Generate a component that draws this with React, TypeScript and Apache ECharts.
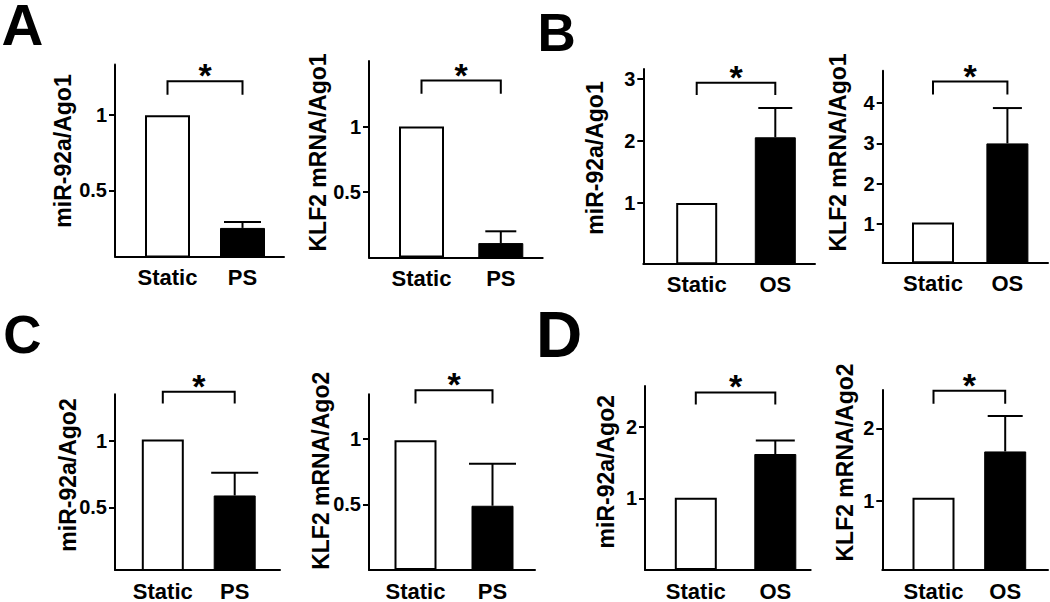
import React, { useEffect, useRef } from 'react';
import * as echarts from 'echarts';

// ---------- data ----------
const groupsPS = ['Static', 'PS'];
const groupsOS = ['Static', 'OS'];
const panelLetters = ['A', 'B', 'C', 'D'];
const yTitles = [
  'miR-92a/Ago1', 'KLF2 mRNA/Ago1',
  'miR-92a/Ago1', 'KLF2 mRNA/Ago1',
  'miR-92a/Ago2', 'KLF2 mRNA/Ago2',
  'miR-92a/Ago2', 'KLF2 mRNA/Ago2',
];
const categoryNames = [groupsPS, groupsPS, groupsOS, groupsOS, groupsPS, groupsPS, groupsOS, groupsOS];
const meanValues = [
  [1.0, 0.25], [1.0, 0.11],
  [1.0, 2.06], [1.03, 3.0],
  [1.01, 0.59], [0.99, 0.49],
  [1.01, 1.62], [1.04, 1.68],
];
const errorValues = [0.04, 0.09, 0.47, 0.88, 0.17, 0.32, 0.19, 0.49];
const yTicks = [
  [0.5, 1], [0.5, 1],
  [1, 2, 3], [1, 2, 3, 4],
  [0.5, 1], [0.5, 1],
  [1, 2], [1, 2],
];
const yMin = [0.06, 0, 0.03, 0.04, 0.03, 0, 0, 0.04];
const yMax = [1.337, 1.5, 3.16, 4.81, 1.35, 1.34, 2.57, 2.53];
const bracketTop = [1.225, 1.351, 2.94, 4.54, 1.37, 1.37, 2.48, 2.52];
const bracketLeg = [1.135, 1.25, 2.74, 4.22, 1.28, 1.27, 2.31, 2.34];
const significance = ['*', '*', '*', '*', '*', '*', '*', '*'];

// ---------- layout (pixels) ----------
const panelLayout = [
  { left: 115, top: 64.5, right: 284, bottom: 256.5, c0: 167.5, c1: 242.5, bw: 45, cap: 37, tx: 63, ty: 151 },
  { left: 369, top: 61, right: 542.7, bottom: 257.5, c0: 421.5, c1: 500.8, bw: 45, cap: 31, tx: 318, ty: 152.5 },
  { left: 643.3, top: 69, right: 815, bottom: 263.3, c0: 696.7, c1: 775.3, bw: 41, cap: 34, tx: 594.7, ty: 158 },
  { left: 882.7, top: 70.7, right: 1048, bottom: 262.3, c0: 933, c1: 1007.4, bw: 42, cap: 29, tx: 838, ty: 152.5 },
  { left: 115, top: 394.3, right: 280, bottom: 575, c0: 162.8, c1: 234.7, bw: 42, cap: 47, tx: 68, ty: 475 },
  { left: 369, top: 394.3, right: 535, bottom: 574.7, c0: 415.5, c1: 492.5, bw: 42, cap: 47, tx: 321.3, ty: 470.8 },
  { left: 645, top: 386, right: 810.7, bottom: 574.3, c0: 695.8, c1: 775.3, bw: 42, cap: 39, tx: 606.3, ty: 471.7 },
  { left: 882.3, top: 390, right: 1048, bottom: 574.3, c0: 933.5, c1: 1005.2, bw: 42, cap: 35, tx: 844.7, ty: 462.5 },
];
const letterLayout = [
  { x: 22.5, y: 24, size: 58 },
  { x: 556.7, y: 32, size: 53 },
  { x: 22.5, y: 334, size: 53 },
  { x: 559, y: 335, size: 64 },
];

const FONT = '"Liberation Sans", Arial, Helvetica, sans-serif';

function buildOption() {
  const grid: any[] = [];
  const xAxis: any[] = [];
  const yAxis: any[] = [];
  const series: any[] = [];
  const graphic: any[] = [];

  panelLayout.forEach((L, i) => {
    const spacing = L.c1 - L.c0;
    const xMin = -(L.c0 - L.left) / spacing;
    const xMax = 1 + (L.right - L.c1) / spacing;
    const cats = categoryNames[i];
    grid.push({ left: L.left, top: L.top, width: L.right - L.left, height: L.bottom - L.top, containLabel: false });
    xAxis.push({
      type: 'value', gridIndex: i, min: xMin, max: xMax,
      axisLine: { show: true, onZero: false, lineStyle: { color: '#000', width: 2 } },
      axisTick: { show: false },
      splitLine: { show: false },
      axisLabel: {
        customValues: [0, 1],
        formatter: (v: number) => cats[Math.round(v)],
        color: '#000', fontSize: 22, fontWeight: 'bold', fontFamily: FONT, margin: 10,
      },
    });
    yAxis.push({
      type: 'value', gridIndex: i, min: yMin[i], max: yMax[i],
      axisLine: { show: true, onZero: false, lineStyle: { color: '#000', width: 2 } },
      axisTick: { show: true, customValues: yTicks[i], length: 6, lineStyle: { color: '#000', width: 2 } },
      splitLine: { show: false },
      axisLabel: {
        customValues: yTicks[i],
        formatter: (v: number) => String(v),
        color: '#000', fontSize: 20, fontWeight: 'bold', fontFamily: FONT, margin: 8,
      },
    });
    series.push({
      type: 'bar', xAxisIndex: i, yAxisIndex: i, barWidth: L.bw,
      data: meanValues[i].map((v, k) => ({
        value: [k, v],
        itemStyle: k === 0
          ? { color: '#fff', borderColor: '#000', borderWidth: 2 }
          : { color: '#000', borderColor: '#000', borderWidth: 1 },
      })),
    });
    const m = meanValues[i][1];
    series.push({
      type: 'custom', xAxisIndex: i, yAxisIndex: i, clip: false,
      encode: { x: 0, y: [1, 2] },
      data: [[1, m, m + errorValues[i]]],
      renderItem: (params: any, api: any) => {
        const p0 = api.coord([api.value(0), api.value(1)]);
        const p1 = api.coord([api.value(0), api.value(2)]);
        const h = L.cap / 2;
        return {
          type: 'group',
          children: [
            { type: 'line', shape: { x1: p0[0], y1: p0[1], x2: p1[0], y2: p1[1] }, style: { stroke: '#000', lineWidth: 2 } },
            { type: 'line', shape: { x1: p1[0] - h, y1: p1[1], x2: p1[0] + h, y2: p1[1] }, style: { stroke: '#000', lineWidth: 2 } },
          ],
        };
      },
      z: 5,
    });
    series.push({
      type: 'custom', xAxisIndex: i, yAxisIndex: i, clip: false,
      encode: { x: [0, 1], y: [2, 3] },
      data: [[0, 1, bracketTop[i], bracketLeg[i]]],
      renderItem: (params: any, api: any) => {
        const a = api.coord([api.value(0), api.value(3)]);
        const b = api.coord([api.value(0), api.value(2)]);
        const c = api.coord([api.value(1), api.value(2)]);
        const d = api.coord([api.value(1), api.value(3)]);
        return {
          type: 'group',
          children: [
            { type: 'polyline', shape: { points: [a, b, c, d] }, style: { stroke: '#000', lineWidth: 2, fill: null } },
            {
              type: 'text', x: (b[0] + c[0]) / 2, y: b[1] - 6,
              style: {
                text: significance[i], fill: '#000', fontSize: 34, fontWeight: 'bold', fontFamily: FONT,
                align: 'center', verticalAlign: 'middle', textAlign: 'center', textVerticalAlign: 'middle',
              },
            },
          ],
        };
      },
      z: 5,
    });
    graphic.push({
      type: 'text', x: L.tx, y: L.ty, rotation: Math.PI / 2,
      style: {
        text: yTitles[i], fill: '#000', fontSize: 23, fontWeight: 'bold', fontFamily: FONT,
        align: 'center', verticalAlign: 'middle', textAlign: 'center', textVerticalAlign: 'middle',
      },
    });
  });

  letterLayout.forEach((P, i) => {
    graphic.push({
      type: 'text', x: P.x, y: P.y,
      style: {
        text: panelLetters[i], fill: '#000', fontSize: P.size, fontWeight: 'bold', fontFamily: FONT,
        lineHeight: Math.round(P.size * 0.75),
        align: 'center', verticalAlign: 'middle', textAlign: 'center', textVerticalAlign: 'middle',
      },
    });
  });

  return {
    animation: false,
    backgroundColor: '#fff',
    grid, xAxis, yAxis, series, graphic,
  };
}

export default function App() {
  const ref = useRef<HTMLDivElement>(null);
  useEffect(() => {
    if (!ref.current) return;
    const chart = echarts.init(ref.current, undefined, { renderer: 'svg' });
    chart.setOption(buildOption() as any);
    return () => chart.dispose();
  }, []);
  return (
    <div
      ref={ref}
      style={{ position: 'fixed', left: 0, top: 0, width: 1050, height: 602, background: '#fff' }}
    />
  );
}
